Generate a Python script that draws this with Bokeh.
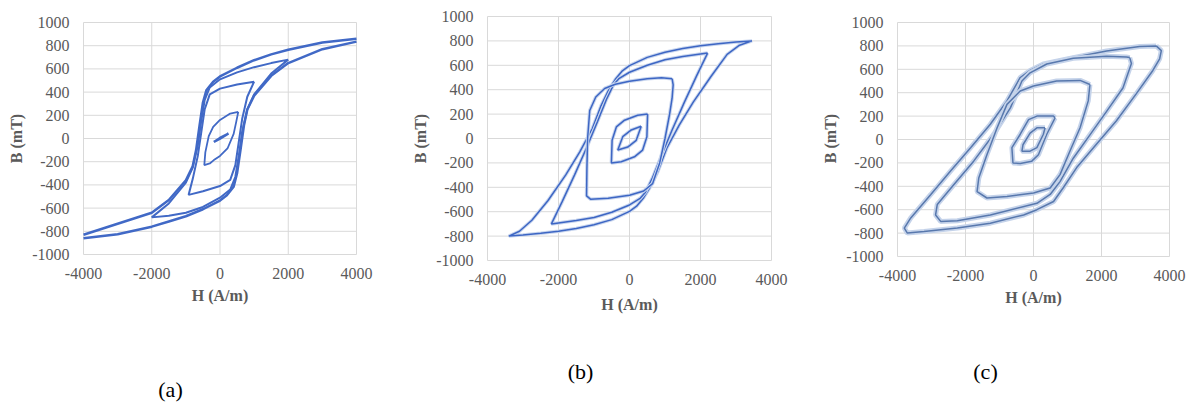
from bokeh.plotting import figure
from bokeh.layouts import row, column
from bokeh.models import FixedTicker, Range1d
from bokeh.core.properties import value
from bokeh.embed import file_html
from bokeh.resources import INLINE

x_ticks = [-4000, -2000, 0, 2000, 4000]
x_tick_labels = ["-4000", "-2000", "0", "2000", "4000"]
y_ticks = [-1000, -800, -600, -400, -200, 0, 200, 400, 600, 800, 1000]
y_tick_labels = ["-1000", "-800", "-600", "-400", "-200", "0", "200", "400", "600", "800", "1000"]
panel_tags = ["(a)", "(b)", "(c)"]

# ---------------- panel (a) ----------------
a1_desc_h = [4000, 3000, 2000, 1500, 1000, 500, 0, -200, -400, -500, -600, -700, -800, -1000, -1500, -2000, -3000, -4000]
a1_desc_b = [860, 828, 765, 725, 675, 610, 535, 490, 415, 310, 110, -100, -240, -360, -530, -640, -735, -830]
a1_asc_h = [-4000, -3000, -2000, -1500, -1000, -500, 0, 200, 400, 500, 600, 700, 800, 1000, 1500, 2000, 3000, 4000]
a1_asc_b = [-860, -825, -760, -715, -670, -610, -535, -490, -415, -300, -100, 110, 250, 370, 540, 650, 770, 835]

a2_h = [2000, 1500, 1000, 500, 0, -300, -450, -550, -650, -800, -1000, -1500, -2000,
        -1500, -1000, -500, 0, 300, 450, 550, 650, 800, 1000, 1500, 2000]
a2_b = [680, 650, 615, 570, 510, 440, 330, 150, -60, -250, -380, -560, -680,
        -665, -640, -590, -510, -440, -330, -150, 60, 250, 380, 560, 680]

a3_h = [1000, 500, 0, -300, -450, -550, -650, -800, -920,
        -500, 0, 300, 450, 550, 650, 800, 1000]
a3_b = [490, 465, 430, 380, 250, 50, -150, -350, -486,
        -455, -410, -357, -230, -30, 170, 360, 490]

a4_h = [535, 300, 0, -200, -330, -430, -460, -300, -180, 0, 220, 400, 480, 535]
a4_b = [229, 215, 160, 100, 20, -120, -229, -215, -186, -150, -86, 40, 150, 229]

a5_h = [-180, 0, 250, 0, -180]
a5_b = [-30, -2, 43, 5, -30]

# ---------------- panel (b) ----------------
b1_h = [3450, 3000, 2500, 2000, 1500, 1000, 500, 0, -200, -400, -600, -800, -1050, -1400, -1800, -2300, -2750, -3100, -3400,
        -3000, -2500, -2000, -1500, -1000, -500, 0, 200, 400, 600, 800, 1050, 1400, 1800, 2300, 2750, 3100, 3450]
b1_b = [800, 790, 776, 760, 737, 707, 665, 597, 555, 485, 390, 270, 80, -110, -300, -510, -670, -760, -800,
        -790, -776, -760, -737, -707, -665, -597, -555, -485, -390, -270, -80, 110, 300, 510, 690, 765, 800]

b2_h = [2200, 2000, 1500, 1000, 500, 0, -300, -450, -650, -900, -1200, -1550, -1900, -2200,
        -2000, -1500, -1000, -500, 0, 300, 450, 650, 900, 1200, 1550, 1900, 2200]
b2_b = [700, 692, 672, 645, 600, 543, 490, 440, 320, 140, -70, -300, -520, -700,
        -692, -672, -648, -605, -545, -490, -440, -320, -140, 70, 300, 520, 700]

b3_h = [1200, 900, 500, 0, -400, -700, -950, -1120, -1180, -1200, -1210, -1100, -600, 0, 400, 650, 850, 1000, 1130, 1200, 1230, 1200]
b3_b = [490, 497, 490, 470, 445, 410, 340, 230, 0, -250, -470, -497, -490, -465, -430, -370, -200, 0, 200, 330, 440, 490]

b4_h = [510, 230, -140, -370, -490, -510, -230, 140, 370, 490, 510]
b4_b = [200, 190, 150, 95, -15, -200, -190, -150, -95, 15, 200]

b5_h = [330, 50, -190, -330, -50, 190, 330]
b5_b = [100, 70, 15, -95, -70, -15, 100]

# ---------------- panel (c) ----------------
c1_h = [3610, 3760, 3710, 3510, 3020, 2440, 1850, 1270, 880, 590, 100, -290, -1270, -2240, -3220, -3710, -3800, -3610,
        -3020, -2440, -1850, -1270, -780, -390, -100, 290, 1170, 2150, 3120, 3610]
c1_b = [800, 760, 690, 590, 390, 160, -40, -240, -410, -530, -600, -645, -715, -757, -786, -800, -757, -670,
        -470, -270, -70, 130, 330, 530, 590, 645, 700, 757, 794, 800]

c2_h = [2830, 2880, 2630, 2150, 1660, 1170, 780, 490, 100, -1270, -2240, -2730, -2880, -2830, -2340, -1760, -1170,
        -680, -340, -100, 390, 1170, 2150, 2730, 2830]
c2_b = [700, 650, 440, 240, 40, -160, -360, -470, -545, -645, -695, -700, -645, -555, -385, -185, 45,
        270, 500, 570, 645, 695, 712, 706, 700]

c3_h = [1660, 1610, 1370, 1070, 780, 490, 0, -780, -1370, -1660, -1610, -1370, -1070, -780, -390, 0, 680, 1370, 1660]
c3_b = [470, 330, 100, -100, -300, -415, -457, -487, -500, -445, -330, -130, 100, 300, 415, 457, 500, 505, 470]

c4_h = [635, 390, 145, -50, -390, -605, -635, -390, -145, 100, 585, 635]
c4_b = [185, 45, -130, -185, -205, -200, -70, 45, 170, 200, 200, 185]

c5_h = [340, 290, 100, -100, -340, -310, -100, 100, 340]
c5_b = [100, 45, -70, -100, -100, -45, 55, 100, 100]

GRID = "#d9d9d9"
TXT = "#5a5a5a"
PANEL_H = 345
FRAME_TOP = 15      # common (row harmonises vertical borders)
FRAME_BOTTOM = 261
X_MIN, X_MAX = x_ticks[0], x_ticks[-1]
Y_MIN, Y_MAX = y_ticks[0], y_ticks[-1]


def make_panel(fig_left, width, frame_l, frame_r, px_xmin, px_xmax, px_ymax, px_ymin, title_gap=5):
    # ranges chosen so that the axis ends fall on the requested pixels
    kx = (X_MAX - X_MIN) / (px_xmax - px_xmin)
    ky = (Y_MAX - Y_MIN) / (px_ymin - px_ymax)
    xr = Range1d(X_MIN - (px_xmin - frame_l) * kx, X_MAX + (frame_r - px_xmax) * kx)
    yr = Range1d(Y_MIN - (FRAME_BOTTOM - px_ymin) * ky, Y_MAX + (px_ymax - FRAME_TOP) * ky)
    p = figure(width=width, height=PANEL_H,
               min_border_left=frame_l - fig_left, min_border_right=fig_left + width - frame_r,
               min_border_top=FRAME_TOP, min_border_bottom=PANEL_H - FRAME_BOTTOM,
               x_range=xr, y_range=yr,
               output_backend="svg", toolbar_location=None)
    p.xaxis.ticker = FixedTicker(ticks=x_ticks)
    p.yaxis.ticker = FixedTicker(ticks=y_ticks)
    p.xaxis.major_label_overrides = dict(zip(x_ticks, x_tick_labels))
    p.yaxis.major_label_overrides = dict(zip(y_ticks, y_tick_labels))
    for ax in (p.xaxis[0], p.yaxis[0]):
        ax.axis_line_color = None
        ax.major_tick_line_color = None
        ax.minor_tick_line_color = None
        ax.major_tick_out = 0
        ax.major_tick_in = 0
        ax.major_label_text_font = "Liberation Serif"
        ax.major_label_text_font_size = "16px"
        ax.major_label_text_color = TXT
        ax.axis_label_text_font = "Liberation Serif"
        ax.axis_label_text_font_style = "bold"
        ax.axis_label_text_font_size = "16px"
        ax.axis_label_text_color = TXT
    p.xaxis.axis_label = "H (A/m)"
    p.yaxis.axis_label = "B (mT)"
    p.yaxis.major_label_standoff = 14 - (px_xmin - frame_l)
    p.yaxis.axis_label_standoff = 4
    p.xaxis.major_label_standoff = 13 - (FRAME_BOTTOM - px_ymin)
    p.xaxis.axis_label_standoff = title_gap
    p.grid.visible = False
    p.outline_line_color = None
    p.background_fill_color = "white"
    p.border_fill_color = "white"
    # grid drawn from the tick lists, limited to the axis extent
    p.segment(x0=x_ticks, y0=[Y_MIN] * len(x_ticks), x1=x_ticks, y1=[Y_MAX] * len(x_ticks),
              line_color=GRID, line_width=1)
    p.segment(x0=[X_MIN] * len(y_ticks), y0=y_ticks, x1=[X_MAX] * len(y_ticks), y1=y_ticks,
              line_color=GRID, line_width=1)
    return p


# panel a
pa = make_panel(0, 400, 82, 357, 83, 356, 22, 254)
col_a = "#4169c6"
pa.line(a1_desc_h, a1_desc_b, line_color=col_a, line_width=2.5)
pa.line(a1_asc_h, a1_asc_b, line_color=col_a, line_width=2.5)
pa.line(a2_h, a2_b, line_color=col_a, line_width=2)
pa.line(a3_h, a3_b, line_color=col_a, line_width=2)
pa.line(a4_h, a4_b, line_color=col_a, line_width=1.8)
pa.line(a5_h, a5_b, line_color=col_a, line_width=2.5)

# panel b
pb = make_panel(400, 400, 486, 772, 487, 771, 16, 260, title_gap=8)
col_b = "#3d66c4"
for h, b in [(b1_h, b1_b), (b2_h, b2_b), (b3_h, b3_b), (b4_h, b4_b), (b5_h, b5_b)]:
    pb.line(h, b, line_color="#c9d6ee", line_width=3.5)
    pb.line(h, b, line_color=col_b, line_width=1.5)

# panel c
pc = make_panel(800, 397, 896, 1170, 897, 1169, 22, 256)
col_c = "#5878ad"
for h, b in [(c1_h, c1_b), (c2_h, c2_b), (c3_h, c3_b), (c4_h, c4_b), (c5_h, c5_b)]:
    pc.line(h, b, line_color="#c5d3ea", line_width=5)
    pc.line(h, b, line_color=col_c, line_width=1.5)

# caption row with the panel letters
LBL_H = 403 - PANEL_H
pl = figure(width=1197, height=LBL_H, x_range=Range1d(0, 1197), y_range=Range1d(0, LBL_H),
            min_border=0, output_backend="svg", toolbar_location=None)
pl.axis.visible = False
pl.grid.visible = False
pl.outline_line_color = None
pl.text(x=[170, 580, 985], y=[LBL_H - 44, LBL_H - 25.5, LBL_H - 25.5], text=panel_tags,
        text_font=value("Liberation Serif"), text_font_size="22px",
        text_align="center", text_baseline="middle", text_color="black")

layout = column(row(pa, pb, pc, spacing=0), pl, spacing=0)
open("out.html", "w").write(file_html(layout, INLINE))
